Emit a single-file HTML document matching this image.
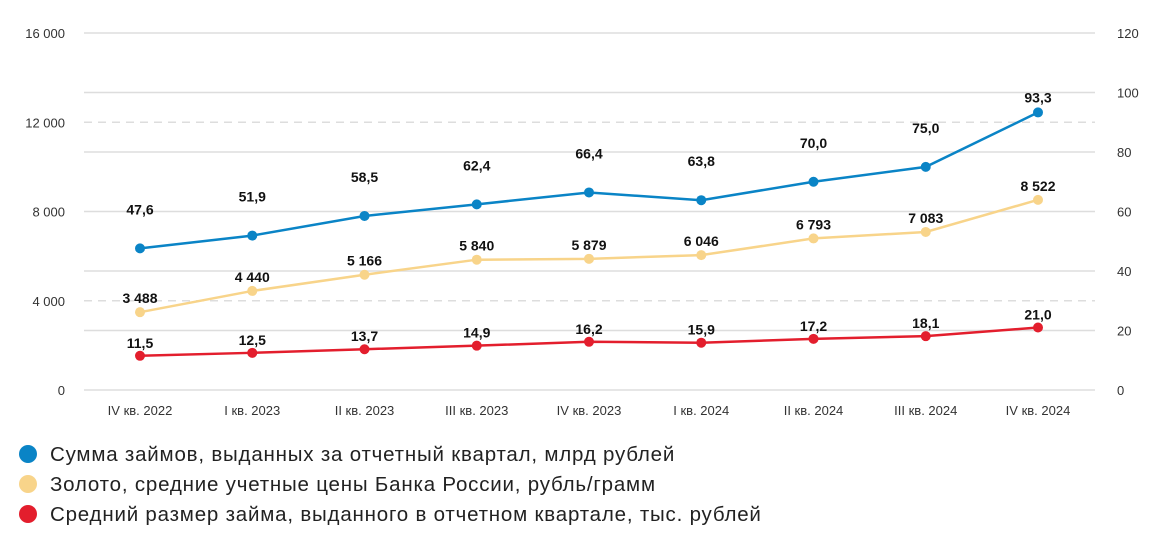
<!DOCTYPE html>
<html><head><meta charset="utf-8"><style>
body{margin:0;background:#fff;font-family:"Liberation Sans",sans-serif;}
svg{display:block}
.tk{font-size:13px;fill:#333}
.lb{font-size:14px;font-weight:bold;fill:#111;text-anchor:middle}
.lg{font-size:20.5px;fill:#222;letter-spacing:0.8px}
</style></head><body>
<svg id="c" width="1172" height="551"></svg>
<script>
const categories=["IV кв. 2022","I кв. 2023","II кв. 2023","III кв. 2023","IV кв. 2023","I кв. 2024","II кв. 2024","III кв. 2024","IV кв. 2024"];
const loans=[47.6,51.9,58.5,62.4,66.4,63.8,70.0,75.0,93.3];
const gold=[3488,4440,5166,5840,5879,6046,6793,7083,8522];
const avgLoan=[11.5,12.5,13.7,14.9,16.2,15.9,17.2,18.1,21.0];
const leftTicks=[0,4000,8000,12000,16000];
const leftTickLabels=["0","4 000","8 000","12 000","16 000"];
const rightTicks=[0,20,40,60,80,100,120];
const fmtR=v=>v.toFixed(1).replace('.',',');
const fmtL=v=>String(v).replace(/\B(?=(\d{3})+(?!\d))/g,' ');
const svg=document.getElementById('c');const NS='http://www.w3.org/2000/svg';
const y0=390,y1=33,xL=84,xR=1095;
const yl=v=>y0-(v/16000)*(y0-y1);
const yr=v=>y0-(v/120)*(y0-y1);
const x=i=>140+i*112.25;
function el(t,a,txt){const e=document.createElementNS(NS,t);for(const k in a)e.setAttribute(k,a[k]);if(txt!==undefined)e.textContent=txt;svg.appendChild(e);return e;}
rightTicks.forEach(v=>{const g=el('line',{x1:xL,x2:xR,y1:yr(v),y2:yr(v),stroke:'#ddd','stroke-width':1.5});

const t=el('text',{x:1117,y:yr(v)+5,class:'tk'},String(v));
});
leftTicks.forEach((v,i)=>{if(v%8000!==0){const g=el('line',{x1:xL,x2:xR,y1:yl(v),y2:yl(v),stroke:'#ddd','stroke-width':1.5,'stroke-dasharray':'8 6'});
}
const t=el('text',{x:65,y:yl(v)+5,class:'tk','text-anchor':'end'},leftTickLabels[i]);
});
categories.forEach((c,i)=>{const t=el('text',{x:x(i),y:415,class:'tk','text-anchor':'middle'},c);
});
function series(vals,sc,col,fmt,name,off){
const p=el('polyline',{points:vals.map((v,i)=>x(i)+','+sc(v)).join(' '),fill:'none',stroke:col,'stroke-width':2.5});

vals.forEach((v,i)=>{const c=el('circle',{cx:x(i),cy:sc(v),r:5,fill:col});

const o=off(i,vals.length);
const t=el('text',{x:x(i),y:sc(v)-o,class:'lb'},fmt(v));
});}
series(gold,yl,'#f8d48a',fmtL,'gold',()=>9);
series(avgLoan,yr,'#e31e2d',fmtR,'avg-loan',()=>8);
series(loans,yr,'#0a84c6',fmtR,'loans',(i,n)=>i===n-1?10:34);
const leg=[['#0a84c6','Сумма займов, выданных за отчетный квартал, млрд рублей'],['#f8d48a','Золото, средние учетные цены Банка России, рубль/грамм'],['#e31e2d','Средний размер займа, выданного в отчетном квартале, тыс. рублей']];
leg.forEach((l,i)=>{const c=el('circle',{cx:28,cy:454+i*30,r:9,fill:l[0]});

const t=el('text',{x:50,y:461+i*30,class:'lg'},l[1]);
});
</script>
</body></html>
